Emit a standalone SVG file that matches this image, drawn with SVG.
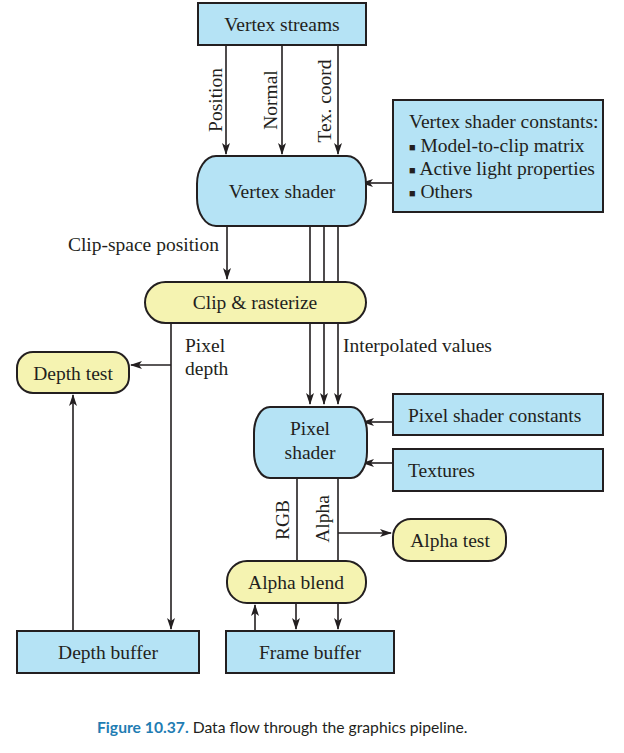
<svg xmlns="http://www.w3.org/2000/svg" width="624" height="753" viewBox="0 0 624 753">
<defs>
<marker id="ah" viewBox="0 0 12 8" refX="11" refY="4" markerWidth="12" markerHeight="8" markerUnits="userSpaceOnUse" orient="auto">
<path d="M0,0 L12,4 L0,8 L3,4 Z" fill="#231f20"/>
</marker>
<style>
.blue{fill:#b5e3f5;stroke:#231f20;stroke-width:2}
.yel{fill:#f5f3b1;stroke:#231f20;stroke-width:2}
.t{font-family:"Liberation Serif","Times New Roman",serif;font-size:19.5px;fill:#231f20}
.c{text-anchor:middle}
.ln{fill:none;stroke:#231f20;stroke-width:1.6}
.ar{fill:none;stroke:#231f20;stroke-width:1.6;marker-end:url(#ah)}
.cap{font-family:"Lato","Open Sans",sans-serif;font-size:15.7px}
</style>
</defs>
<rect width="624" height="753" fill="#ffffff"/>

<g id="connectors">
<line class="ar" x1="226" y1="45" x2="226" y2="154"/>
<line class="ar" x1="282" y1="45" x2="282" y2="154"/>
<line class="ar" x1="338" y1="45" x2="338" y2="154"/>
<line class="ar" x1="393" y1="183" x2="362" y2="183"/>
<line class="ar" x1="227" y1="226" x2="227" y2="279"/>
<line class="ar" x1="310" y1="226" x2="310" y2="404"/>
<line class="ar" x1="324" y1="226" x2="324" y2="404"/>
<line class="ar" x1="338" y1="226" x2="338" y2="404"/>
<line class="ar" x1="171" y1="323" x2="171" y2="629"/>
<line class="ar" x1="171" y1="365" x2="131" y2="365"/>
<line class="ar" x1="73" y1="631" x2="73" y2="395"/>
<line class="ar" x1="393" y1="422" x2="363" y2="422"/>
<line class="ar" x1="393" y1="463" x2="363" y2="463"/>
<line class="ln" x1="297" y1="478" x2="297" y2="561"/>
<line class="ln" x1="338" y1="478" x2="338" y2="561"/>
<line class="ar" x1="338" y1="533" x2="391" y2="533"/>
<line class="ar" x1="255" y1="631" x2="255" y2="605"/>
<line class="ar" x1="296" y1="603" x2="296" y2="629"/>
<line class="ar" x1="338" y1="603" x2="338" y2="629"/>
<text class="t c" transform="translate(222,100) rotate(-90)">Position</text>
<text class="t c" transform="translate(277,100) rotate(-90)">Normal</text>
<text class="t c" transform="translate(331,101) rotate(-90)">Tex. coord</text>
<text class="t" x="219" y="251" text-anchor="end">Clip-space position</text>
<text class="t" x="343" y="352">Interpolated values</text>
<text class="t" x="185" y="352">Pixel</text>
<text class="t" x="185" y="375">depth</text>
<text class="t c" transform="translate(289,520) rotate(-90)">RGB</text>
<text class="t c" transform="translate(329,519) rotate(-90)">Alpha</text>
</g>

<g id="vertex-streams">
<rect class="blue" x="198" y="3" width="168" height="42"/>
<text class="t c" x="282" y="31">Vertex streams</text>
</g>

<g id="vertex-shader">
<rect class="blue" x="197" y="156" width="169" height="70" rx="19" ry="28"/>
<text class="t c" x="282" y="198">Vertex shader</text>
</g>

<g id="vertex-shader-constants">
<rect class="blue" x="393" y="100" width="210" height="112"/>
<text class="t" x="409" y="128">Vertex shader constants:</text>
<text class="t" x="409" y="152"><tspan font-size="11" dy="-1">■</tspan><tspan dy="1"> Model-to-clip matrix</tspan></text>
<text class="t" x="409" y="175"><tspan font-size="11" dy="-1">■</tspan><tspan dy="1"> Active light properties</tspan></text>
<text class="t" x="409" y="198"><tspan font-size="11" dy="-1">■</tspan><tspan dy="1"> Others</tspan></text>
</g>

<g id="clip-rasterize">
<rect class="yel" x="145" y="282" width="221" height="41" rx="20.5" ry="20.5"/>
<text class="t c" x="255" y="309">Clip &amp; rasterize</text>
</g>

<g id="depth-test">
<rect class="yel" x="17" y="352" width="112" height="41" rx="16" ry="16"/>
<text class="t c" x="73" y="380">Depth test</text>
</g>

<g id="pixel-shader">
<rect class="blue" x="254" y="407" width="113" height="71" rx="16" ry="26"/>
<text class="t c" x="310" y="435">Pixel</text>
<text class="t c" x="310" y="459">shader</text>
</g>

<g id="pixel-shader-constants">
<rect class="blue" x="393" y="394" width="210" height="41"/>
<text class="t" x="408" y="422">Pixel shader constants</text>
</g>

<g id="textures">
<rect class="blue" x="393" y="449" width="210" height="42"/>
<text class="t" x="408" y="477">Textures</text>
</g>

<g id="alpha-test">
<rect class="yel" x="393" y="519" width="113" height="42" rx="18" ry="18"/>
<text class="t c" x="450" y="547">Alpha test</text>
</g>

<g id="alpha-blend">
<rect class="yel" x="227" y="561" width="139" height="42" rx="20" ry="20"/>
<text class="t c" x="296" y="589">Alpha blend</text>
</g>

<g id="depth-buffer">
<rect class="blue" x="17" y="631" width="182" height="42"/>
<text class="t c" x="108" y="659">Depth buffer</text>
</g>

<g id="frame-buffer">
<rect class="blue" x="226" y="631" width="168" height="42"/>
<text class="t c" x="310" y="659">Frame buffer</text>
</g>

<text class="cap" x="97" y="733"><tspan fill="#1f7db3" font-weight="bold">Figure 10.37.</tspan><tspan fill="#231f20"> Data flow through the graphics pipeline.</tspan></text>
</svg>
